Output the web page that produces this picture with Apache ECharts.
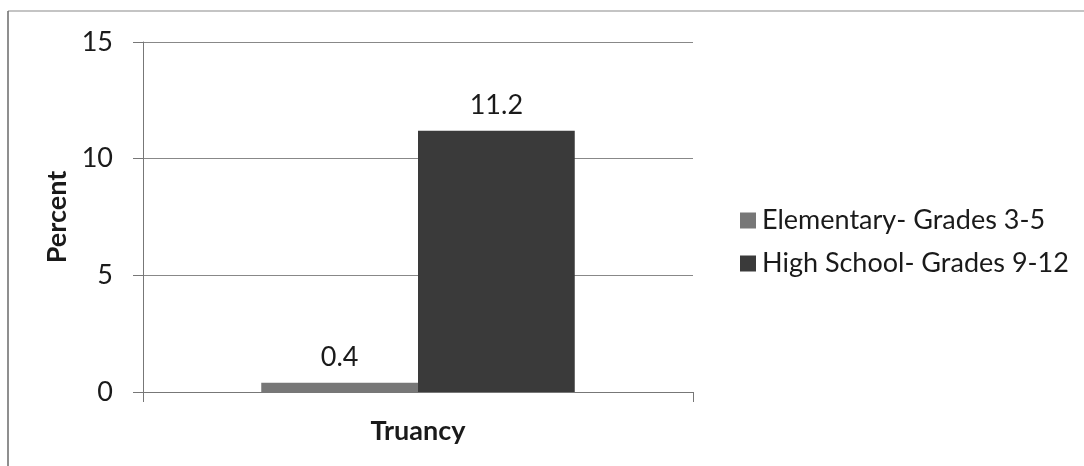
<!DOCTYPE html>
<html>
<head>
<meta charset="utf-8">
<script src="https://cdn.jsdelivr.net/npm/echarts@6/dist/echarts.min.js"></script>
<style>
  html, body { margin: 0; padding: 0; background: #fff; }
  #chart { width: 1084px; height: 466px; }
</style>
</head>
<body>
<div id="chart"></div>
<script>
const categories = ['Truancy'];
const seriesNames = ['Elementary- Grades 3-5', 'High School- Grades 9-12'];
const elementaryValues = [0.4];
const highSchoolValues = [11.2];
const yTicks = [0, 5, 10, 15];

const FONT = 'Lato, "Open Sans", sans-serif';
const chart = echarts.init(document.getElementById('chart'));

chart.setOption({
  backgroundColor: '#fff',
  animation: false,
  textStyle: { fontFamily: FONT },
  graphic: [
    { type: 'line', shape: { x1: 8, y1: 11, x2: 1084, y2: 11 }, style: { stroke: '#8a8a8a', lineWidth: 1.2 } },
    { type: 'line', shape: { x1: 8, y1: 11, x2: 8, y2: 466 }, style: { stroke: '#6a6a6a', lineWidth: 1.5 } }
  ],
  grid: { left: 143, right: 391, top: 42, bottom: 74 },
  legend: {
    orient: 'vertical',
    left: 735,
    top: 202,
    itemWidth: 16,
    itemHeight: 16,
    itemGap: 16,
    icon: 'rect',
    textStyle: { fontSize: 27, color: '#1a1a1a', fontFamily: FONT, padding: [0, 0, 0, 1] },
    data: seriesNames
  },
  xAxis: {
    type: 'category',
    data: categories,
    name: categories[0],
    nameLocation: 'middle',
    nameGap: 26,
    nameTextStyle: { fontSize: 27, fontWeight: 'bold', color: '#1a1a1a', verticalAlign: 'top' },
    axisLine: { lineStyle: { color: '#777', width: 1 } },
    axisTick: { show: true, length: 10, lineStyle: { color: '#777' } },
    axisLabel: { show: false }
  },
  yAxis: {
    type: 'value',
    min: yTicks[0],
    max: yTicks[yTicks.length - 1],
    interval: 5,
    name: 'Percent',
    nameLocation: 'middle',
    nameGap: 70,
    nameRotate: 90,
    nameTextStyle: { fontSize: 27, fontWeight: 'bold', color: '#1a1a1a' },
    axisLine: { show: true, lineStyle: { color: '#777', width: 1 } },
    axisTick: { show: true, length: 10, lineStyle: { color: '#777' } },
    axisLabel: { fontSize: 27, color: '#1a1a1a', margin: 30 },
    splitLine: { lineStyle: { color: '#888', width: 1 } }
  },
  series: [
    {
      name: seriesNames[0],
      type: 'bar',
      data: elementaryValues,
      barCategoryGap: '43%',
      barGap: '0%',
      itemStyle: { color: '#777777' },
      label: { show: true, position: 'top', distance: 12, fontSize: 27, color: '#1a1a1a' }
    },
    {
      name: seriesNames[1],
      type: 'bar',
      data: highSchoolValues,
      barCategoryGap: '43%',
      barGap: '0%',
      itemStyle: { color: '#3a3a3a' },
      label: { show: true, position: 'top', distance: 12, fontSize: 27, color: '#1a1a1a' }
    }
  ]
});
</script>
</body>
</html>
